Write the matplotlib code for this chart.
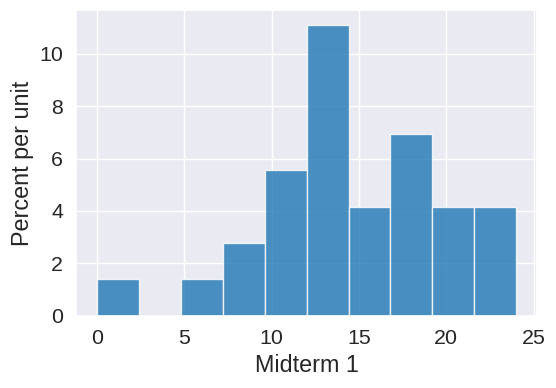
import matplotlib
matplotlib.use("Agg")
import matplotlib.pyplot as plt
import seaborn as sns

# histogram bins for Midterm 1 scores (width 2.4)
bin_edges = [0, 2.4, 4.8, 7.2, 9.6, 12.0, 14.4, 16.8, 19.2, 21.6, 24.0]
percent_per_unit = [1.39, 0.0, 1.39, 2.78, 5.56, 11.11, 4.17, 6.94, 4.17, 4.17]

sns.set_theme(style="darkgrid", font_scale=1.4)
plt.rcParams['font.family'] = ['Liberation Sans', 'DejaVu Sans']

fig, ax = plt.subplots(figsize=(5.56, 3.88), dpi=100)
fig.subplots_adjust(left=0.137, right=0.966, top=0.974, bottom=0.186)

lefts = bin_edges[:-1]
widths = [b - a for a, b in zip(bin_edges[:-1], bin_edges[1:])]
ax.bar(lefts, percent_per_unit, width=widths, align='edge',
       color='#1f77b4', alpha=0.8, edgecolor='white', linewidth=1)
ax.margins(x=0.05, y=0.05)
ax.set_xlim(-1.2, 25.2)
ax.set_xticks([0, 5, 10, 15, 20, 25])
ax.set_yticks([0, 2, 4, 6, 8, 10])
ax.set_xlabel('Midterm 1')
ax.set_ylabel('Percent per unit')

fig.savefig('out.png')
